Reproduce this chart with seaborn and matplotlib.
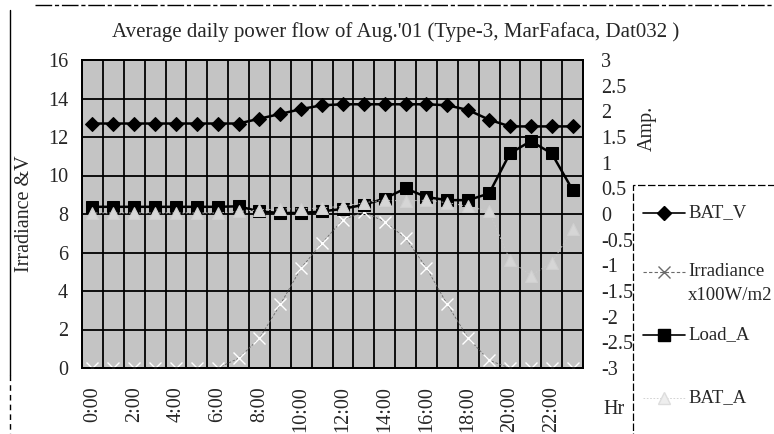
import numpy as np
import pandas as pd
import matplotlib
matplotlib.use("Agg")
import matplotlib.pyplot as plt
from matplotlib.lines import Line2D
from matplotlib.patches import Rectangle
import seaborn as sns

hours = ["0:00", "1:00", "2:00", "3:00", "4:00", "5:00", "6:00", "7:00",
         "8:00", "9:00", "10:00", "11:00", "12:00", "13:00", "14:00", "15:00",
         "16:00", "17:00", "18:00", "19:00", "20:00", "21:00", "22:00", "23:00"]
bat_v = [12.7, 12.7, 12.7, 12.7, 12.7, 12.7, 12.7, 12.7, 12.95, 13.2, 13.45, 13.65,
         13.7, 13.7, 13.7, 13.7, 13.7, 13.65, 13.4, 12.9, 12.55, 12.55, 12.55, 12.55]
irradiance = [0, 0, 0, 0, 0, 0, 0, 0.5, 1.55, 3.3, 5.2, 6.5,
              7.7, 8.1, 7.6, 6.75, 5.2, 3.3, 1.55, 0.4, 0, 0, 0, 0]
load_a = [0.14, 0.14, 0.14, 0.14, 0.14, 0.14, 0.14, 0.15, 0.05, 0.02, 0.02, 0.05,
          0.1, 0.18, 0.3, 0.5, 0.33, 0.27, 0.27, 0.4, 1.18, 1.42, 1.18, 0.47]
bat_a = [0.02, 0.02, 0.02, 0.02, 0.02, 0.02, 0.02, 0.05, 0.08, 0.1, 0.1, 0.12,
         0.15, 0.22, 0.27, 0.25, 0.27, 0.22, 0.15, 0.05, -0.9, -1.2, -0.95, -0.3]
left_ticks = [0, 2, 4, 6, 8, 10, 12, 14, 16]
right_ticks = [-3, -2.5, -2, -1.5, -1, -0.5, 0, 0.5, 1, 1.5, 2, 2.5, 3]

df = pd.DataFrame({"pos": np.arange(len(hours)), "hour": hours, "BAT_V": bat_v,
                   "Irr": irradiance, "Load_A": load_a, "BAT_A": bat_a})

sns.set_style("white")
plt.rcParams["font.family"] = ["Liberation Serif", "DejaVu Serif"]
FS = 14.5
LFS = 13.5
BG = "#c4c4c4"

fig = plt.figure(figsize=(7.74, 4.34), dpi=100)
ax = fig.add_axes([82/774, 1-368/434, (583-82)/774, (368-60)/434])
ax.set_facecolor(BG)
ax2 = ax.twinx()

IRR_KW = dict(color="#6a6a6a", lw=0.6, linestyle=(0, (3, 2)), marker="x",
              markersize=9, mew=1.0)
BATA_KW = dict(color="#cccccc", lw=0.6, linestyle=(0, (2, 2)), marker="^",
               markersize=8, mfc="#d6d6d6", mec="#d0d0d0")

sns.lineplot(data=df, x="pos", y="Irr", ax=ax, zorder=3, **IRR_KW)
sns.lineplot(data=df, x="pos", y="BAT_V", ax=ax, color="black", lw=1.8,
             marker="D", markersize=7, mec="black", zorder=4)
sns.lineplot(data=df, x="pos", y="Load_A", ax=ax2, color="black", lw=1.8,
             marker="s", markersize=9, mec="black", zorder=4)
sns.lineplot(data=df, x="pos", y="BAT_A", ax=ax2, zorder=5, **BATA_KW)

ax.set_xlim(-0.5, len(hours) - 0.5)
ax.set_ylim(0, 16)
ax2.set_ylim(-3, 3)
ax.set_yticks(left_ticks)
ax.set_yticklabels([str(t) for t in left_ticks], fontsize=FS)
ax2.set_yticks(right_ticks)
ax2.set_yticklabels([("%g" % t) for t in right_ticks], fontsize=FS)
ax.set_xticks(df["pos"][::2])
ax.set_xticklabels(hours[::2], rotation=90, fontsize=FS)
ax.set_xticks(np.arange(len(hours) + 1) - 0.5, minor=True)
ax.tick_params(axis="x", which="both", length=0, pad=13)
ax.tick_params(axis="y", length=0, pad=10)
ax2.tick_params(axis="y", length=0, pad=13)
ax.set_xlabel("")
ax.set_ylabel("")
ax2.set_ylabel("")

ax.grid(False)
ax2.grid(False)
ax.grid(True, which="minor", axis="x", color="black", lw=1.3)
ax.grid(True, which="major", axis="y", color="black", lw=1.3)
ax.set_axisbelow(True)
for a in (ax, ax2):
    for s in a.spines.values():
        s.set_color("black")
        s.set_linewidth(1.3)
ax2.patch.set_visible(False)

fig.text(396/774, 1-32/434, "Average daily power flow of Aug.'01 (Type-3, MarFafaca, Dat032 )",
         ha="center", va="center", fontsize=15)
fig.text(25/774, 1-214/434, "Irradiance &V", rotation=90, ha="center", va="center", fontsize=FS)
fig.text(647/774, 1-128/434, "Amp.", rotation=90, ha="center", va="center", fontsize=FS)
fig.text(603/774, 1-410/434, "Hr", ha="left", va="center", fontsize=FS)

# legend (drawn manually to match the reference layout)
def fx(px):
    return px / 774

def fy(py):
    return 1 - py / 434

legend_items = [
    (213, "BAT_V", dict(color="black", lw=1.2, marker="D", markersize=7)),
    (272, "Irradiance\nx100W/m2", dict(IRR_KW, lw=0.8)),
    (335, "Load_A", dict(color="black", lw=1.2, marker="s", markersize=9)),
    (398, "BAT_A", dict(BATA_KW, mfc="#eeeeee", mec="#dddddd")),
]
for ypx, lab, kw in legend_items:
    fig.lines.append(Line2D([fx(643), fx(685)], [fy(ypx), fy(ypx)],
                            transform=fig.transFigure, markevery=[], **kw))
    mk = {k: v for k, v in kw.items() if k not in ("lw", "linestyle")}
    fig.lines.append(Line2D([fx(664)], [fy(ypx)], transform=fig.transFigure,
                            linestyle="none", **mk))
    if "\n" in lab:
        l1, l2 = lab.split("\n")
        fig.text(fx(688), fy(ypx), l1, ha="left", va="center", fontsize=LFS)
        fig.text(fx(688), fy(ypx + 23), l2, ha="left", va="center", fontsize=LFS)
    else:
        fig.text(fx(688), fy(ypx), lab, ha="left", va="center", fontsize=LFS)

fig.patches.append(Rectangle((fx(633), -0.1), 0.5, fy(185) + 0.1,
                             transform=fig.transFigure, fill=False, ec="black",
                             lw=0.9, linestyle=(0, (6, 2))))

# outer chart border (scanned frame)
fig.lines.append(Line2D([fx(35), 1.0], [fy(5), fy(5)], transform=fig.transFigure,
                        color="black", lw=1.0, linestyle=(0, (12, 2, 3, 2))))
fig.lines.append(Line2D([fx(10), fx(10)], [fy(10), fy(375)], transform=fig.transFigure,
                        color="black", lw=1.0))
fig.lines.append(Line2D([fx(10), fx(10)], [fy(375), 0], transform=fig.transFigure,
                        color="black", lw=1.0, linestyle=(0, (4, 3))))

fig.savefig("out.png", dpi=100)
